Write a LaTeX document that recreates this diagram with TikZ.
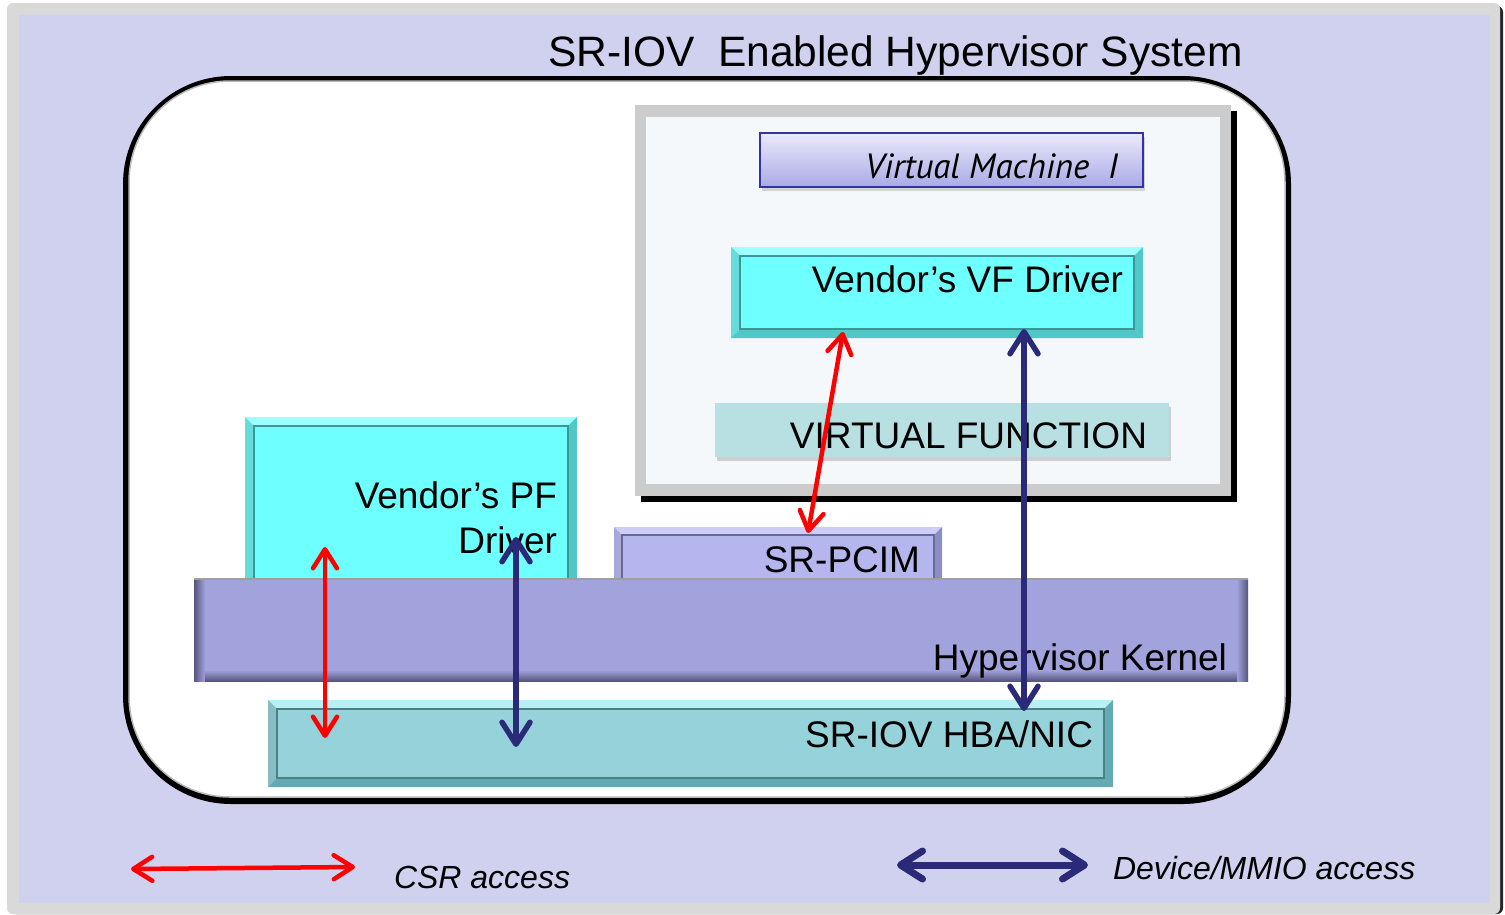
\documentclass[tikz,border=0pt]{standalone}
\usepackage{fontspec}
\setmainfont{Liberation Sans}
\newfontfamily\vmfont{PT Sans}
\usetikzlibrary{arrows.meta,shadows}

\definecolor{framegray}{RGB}{217,217,217}
\definecolor{lavbg}{RGB}{208,209,239}
\definecolor{vmgray}{RGB}{204,204,204}
\definecolor{vminner}{RGB}{245,248,250}
\definecolor{vmtop}{RGB}{234,234,251}
\definecolor{vmbot}{RGB}{170,170,230}
\definecolor{vmline}{RGB}{52,52,160}
\definecolor{cyanfill}{RGB}{110,255,255}
\definecolor{cyanlight}{RGB}{160,255,255}
\definecolor{cyandark}{RGB}{80,200,200}
\definecolor{vffill}{RGB}{184,223,226}
\definecolor{pcimfill}{RGB}{182,182,238}
\definecolor{pcimlight}{RGB}{205,205,248}
\definecolor{pcimdark}{RGB}{140,140,200}
\definecolor{kernfill}{RGB}{162,162,220}
\definecolor{kerndark}{RGB}{85,85,125}
\definecolor{nicfill}{RGB}{150,210,218}
\definecolor{niclight}{RGB}{185,240,245}
\definecolor{nicdark}{RGB}{100,170,178}
\definecolor{csrred}{RGB}{255,0,0}
\definecolor{mmionavy}{RGB}{42,42,120}

% box given by its top-left and bottom-right corners (px, y downwards)
\newcommand\boxnode[6]{%
  \node[#1, anchor=north west, minimum width=#5-#3, minimum height=#6-#4] (#2) at (#3,#4) {};}

% bevelled rim: node, inset, top colour, left colour, bottom/right colour
\newcommand\bevel[5]{%
  \fill[#3] (#1.north west) -- (#1.north east) -- ([xshift=-#2pt,yshift=-#2pt]#1.north east) -- ([xshift=#2pt,yshift=-#2pt]#1.north west) -- cycle;
  \fill[#4] (#1.north west) -- ([xshift=#2pt,yshift=-#2pt]#1.north west) -- ([xshift=#2pt,yshift=#2pt]#1.south west) -- (#1.south west) -- cycle;
  \fill[#5] (#1.south west) -- ([xshift=#2pt,yshift=#2pt]#1.south west) -- ([xshift=-#2pt,yshift=#2pt]#1.south east) -- (#1.south east) -- cycle;
  \fill[#5] (#1.north east) -- ([xshift=-#2pt,yshift=-#2pt]#1.north east) -- ([xshift=-#2pt,yshift=#2pt]#1.south east) -- (#1.south east) -- cycle;
  \draw[#5!75!black, line width=1.2] ([xshift=#2pt,yshift=-#2pt]#1.north west) rectangle ([xshift=-#2pt,yshift=#2pt]#1.south east);}

% soft inner shadow along the left, right and bottom edges
\newcommand\softedge[4]{% node, width, fill colour, edge colour
  \fill[left color=#4, right color=#3] (#1.north west) rectangle ([xshift=#2pt]#1.south west);
  \fill[right color=#4, left color=#3] ([xshift=-#2pt]#1.north east) rectangle (#1.south east);
  \fill[bottom color=#4, top color=#3] ([xshift=#2pt,yshift=#2pt]#1.south west) rectangle ([xshift=-#2pt]#1.south east);
  \draw[gray!75, line width=1.5] (#1.north west) -- (#1.north east);}

\tikzset{
  plain/.style={rectangle, inner sep=0, outer sep=0},
  sysbox/.style={plain, draw=gray!55, line width=1.5, fill=white, rounded corners=101},
  vmframe/.style={plain, fill=vmgray},
  vminside/.style={plain, fill=vminner},
  vmlabelbox/.style={plain, draw=vmline, line width=2, top color=vmtop, bottom color=vmbot,
    drop shadow={shadow xshift=2pt, shadow yshift=-4pt, opacity=0.3}},
  drvbox/.style={plain, fill=cyanfill},
  vfbox/.style={plain, fill=vffill, drop shadow={shadow xshift=2pt, shadow yshift=-4pt, opacity=0.35}},
  pcimbox/.style={plain, fill=pcimfill},
  kernbox/.style={plain, fill=kernfill},
  nicbox/.style={plain, fill=nicfill},
  txt/.style={inner sep=0, outer sep=0, font=\fontsize{37}{44}\selectfont},
  legendtxt/.style={inner sep=0, outer sep=0, font=\fontsize{32}{38}\selectfont\itshape},
  csrarrow/.style={draw=csrred, line width=4.5, line cap=round,
    {Straight Barb[length=19pt,width=24pt,round]}-{Straight Barb[length=19pt,width=24pt,round]}},
  mmioarrow/.style={draw=mmionavy, line width=5.5, line cap=round,
    {Straight Barb[length=22pt,width=28pt,round]}-{Straight Barb[length=22pt,width=28pt,round]}},
}

\begin{document}
\begin{tikzpicture}[x=1pt,y=-1pt]
\useasboundingbox (0,0) rectangle (1505,914);

% page frame and background
\fill[black!85, rounded corners=6] (10,6) rectangle (1503,914);
\fill[framegray, rounded corners=6] (7,3) rectangle (1500,914);
\fill[lavbg] (19,15) rectangle (1490,903);

% system container: dark rim, then the white panel
\fill[black, rounded corners=108] (123,76) rectangle (1291,804);
\boxnode{sysbox}{sys}{129}{81}{1285}{797}
\node[anchor=base west, inner sep=0, font=\fontsize{42.5}{50}\selectfont] (title) at (548,66) {SR-IOV\ \ Enabled Hypervisor System};

% virtual machine
\fill[black] (641,111) rectangle (1237,502);
\boxnode{vmframe}{vm}{635}{105}{1231}{496}
\boxnode{vminside}{vmin}{646}{117}{1220}{484}
\boxnode{vmlabelbox}{vmlabel}{760}{133}{1143}{187}
\node[anchor=base east, inner sep=0, font=\fontsize{35}{42}\selectfont\vmfont\itshape] (vmtext) at (1118,178) {Virtual Machine\ \ I};

\boxnode{drvbox}{vfdrv}{731}{247}{1143}{338}
\bevel{vfdrv}{9}{cyanlight}{cyanfill!85!black!95}{cyandark}
\node[txt, anchor=base east] (vfdrvtext) at (1123,292) {Vendor’s VF Driver};

\boxnode{vfbox}{vfn}{715}{403}{1169}{457}
\node[txt, anchor=base east] (vfntext) at (1147,448) {VIRTUAL FUNCTION};

% hypervisor side
\boxnode{drvbox}{pfdrv}{245}{417}{577}{590}
\bevel{pfdrv}{9}{cyanlight}{cyanfill!85!black!95}{cyandark}
\node[txt, anchor=base east] (pftexta) at (557,508) {Vendor’s PF};
\node[txt, anchor=base east] (pftextb) at (557,553) {Driver};

\boxnode{pcimbox}{pcim}{614}{527}{942}{590}
\bevel{pcim}{8}{pcimlight}{pcimfill!92!black}{pcimdark}
\node[txt, anchor=base east] (pcimtext) at (920,572) {SR-PCIM};

\boxnode{kernbox}{kern}{194}{579}{1248}{681}
\softedge{kern}{11}{kernfill}{kerndark}
\node[txt, anchor=base east] (kerntext) at (1227,670) {Hypervisor Kernel};

\boxnode{nicbox}{nic}{268}{700}{1113}{787}
\bevel{nic}{9}{niclight}{nicfill!90!black}{nicdark}
\node[txt, anchor=base east] (nictext) at (1093,747) {SR-IOV HBA/NIC};

% access paths
\coordinate (vfcsrtop) at (843,332);
\coordinate (vfcsrbot) at (808,533);
\coordinate (vfmmiotop) at (1024,329);
\coordinate (vfmmiobot) at (1024,711);
\coordinate (pfcsrtop) at (325,547);
\coordinate (pfcsrbot) at (325,738);
\coordinate (pfmmiotop) at (516,537);
\coordinate (pfmmiobot) at (516,747);
\draw[csrarrow] (vfcsrtop) -- (vfcsrbot);
\draw[mmioarrow] (vfmmiotop) -- (vfmmiobot);
\draw[csrarrow] (pfcsrtop) -- (pfcsrbot);
\draw[mmioarrow] (pfmmiotop) -- (pfmmiobot);

% legend
\coordinate (csrleft) at (131,869);
\coordinate (csrright) at (355,867);
\coordinate (mmioleft) at (897,865);
\coordinate (mmioright) at (1088,865);
\draw[csrarrow] (csrleft) -- (csrright);
\draw[mmioarrow, line width=7] (mmioleft) -- (mmioright);
\node[legendtxt, anchor=base west] (csrtext) at (394,888) {CSR access};
\node[legendtxt, anchor=base west] (mmiotext) at (1113,879) {Device/MMIO access};
\end{tikzpicture}
\end{document}
